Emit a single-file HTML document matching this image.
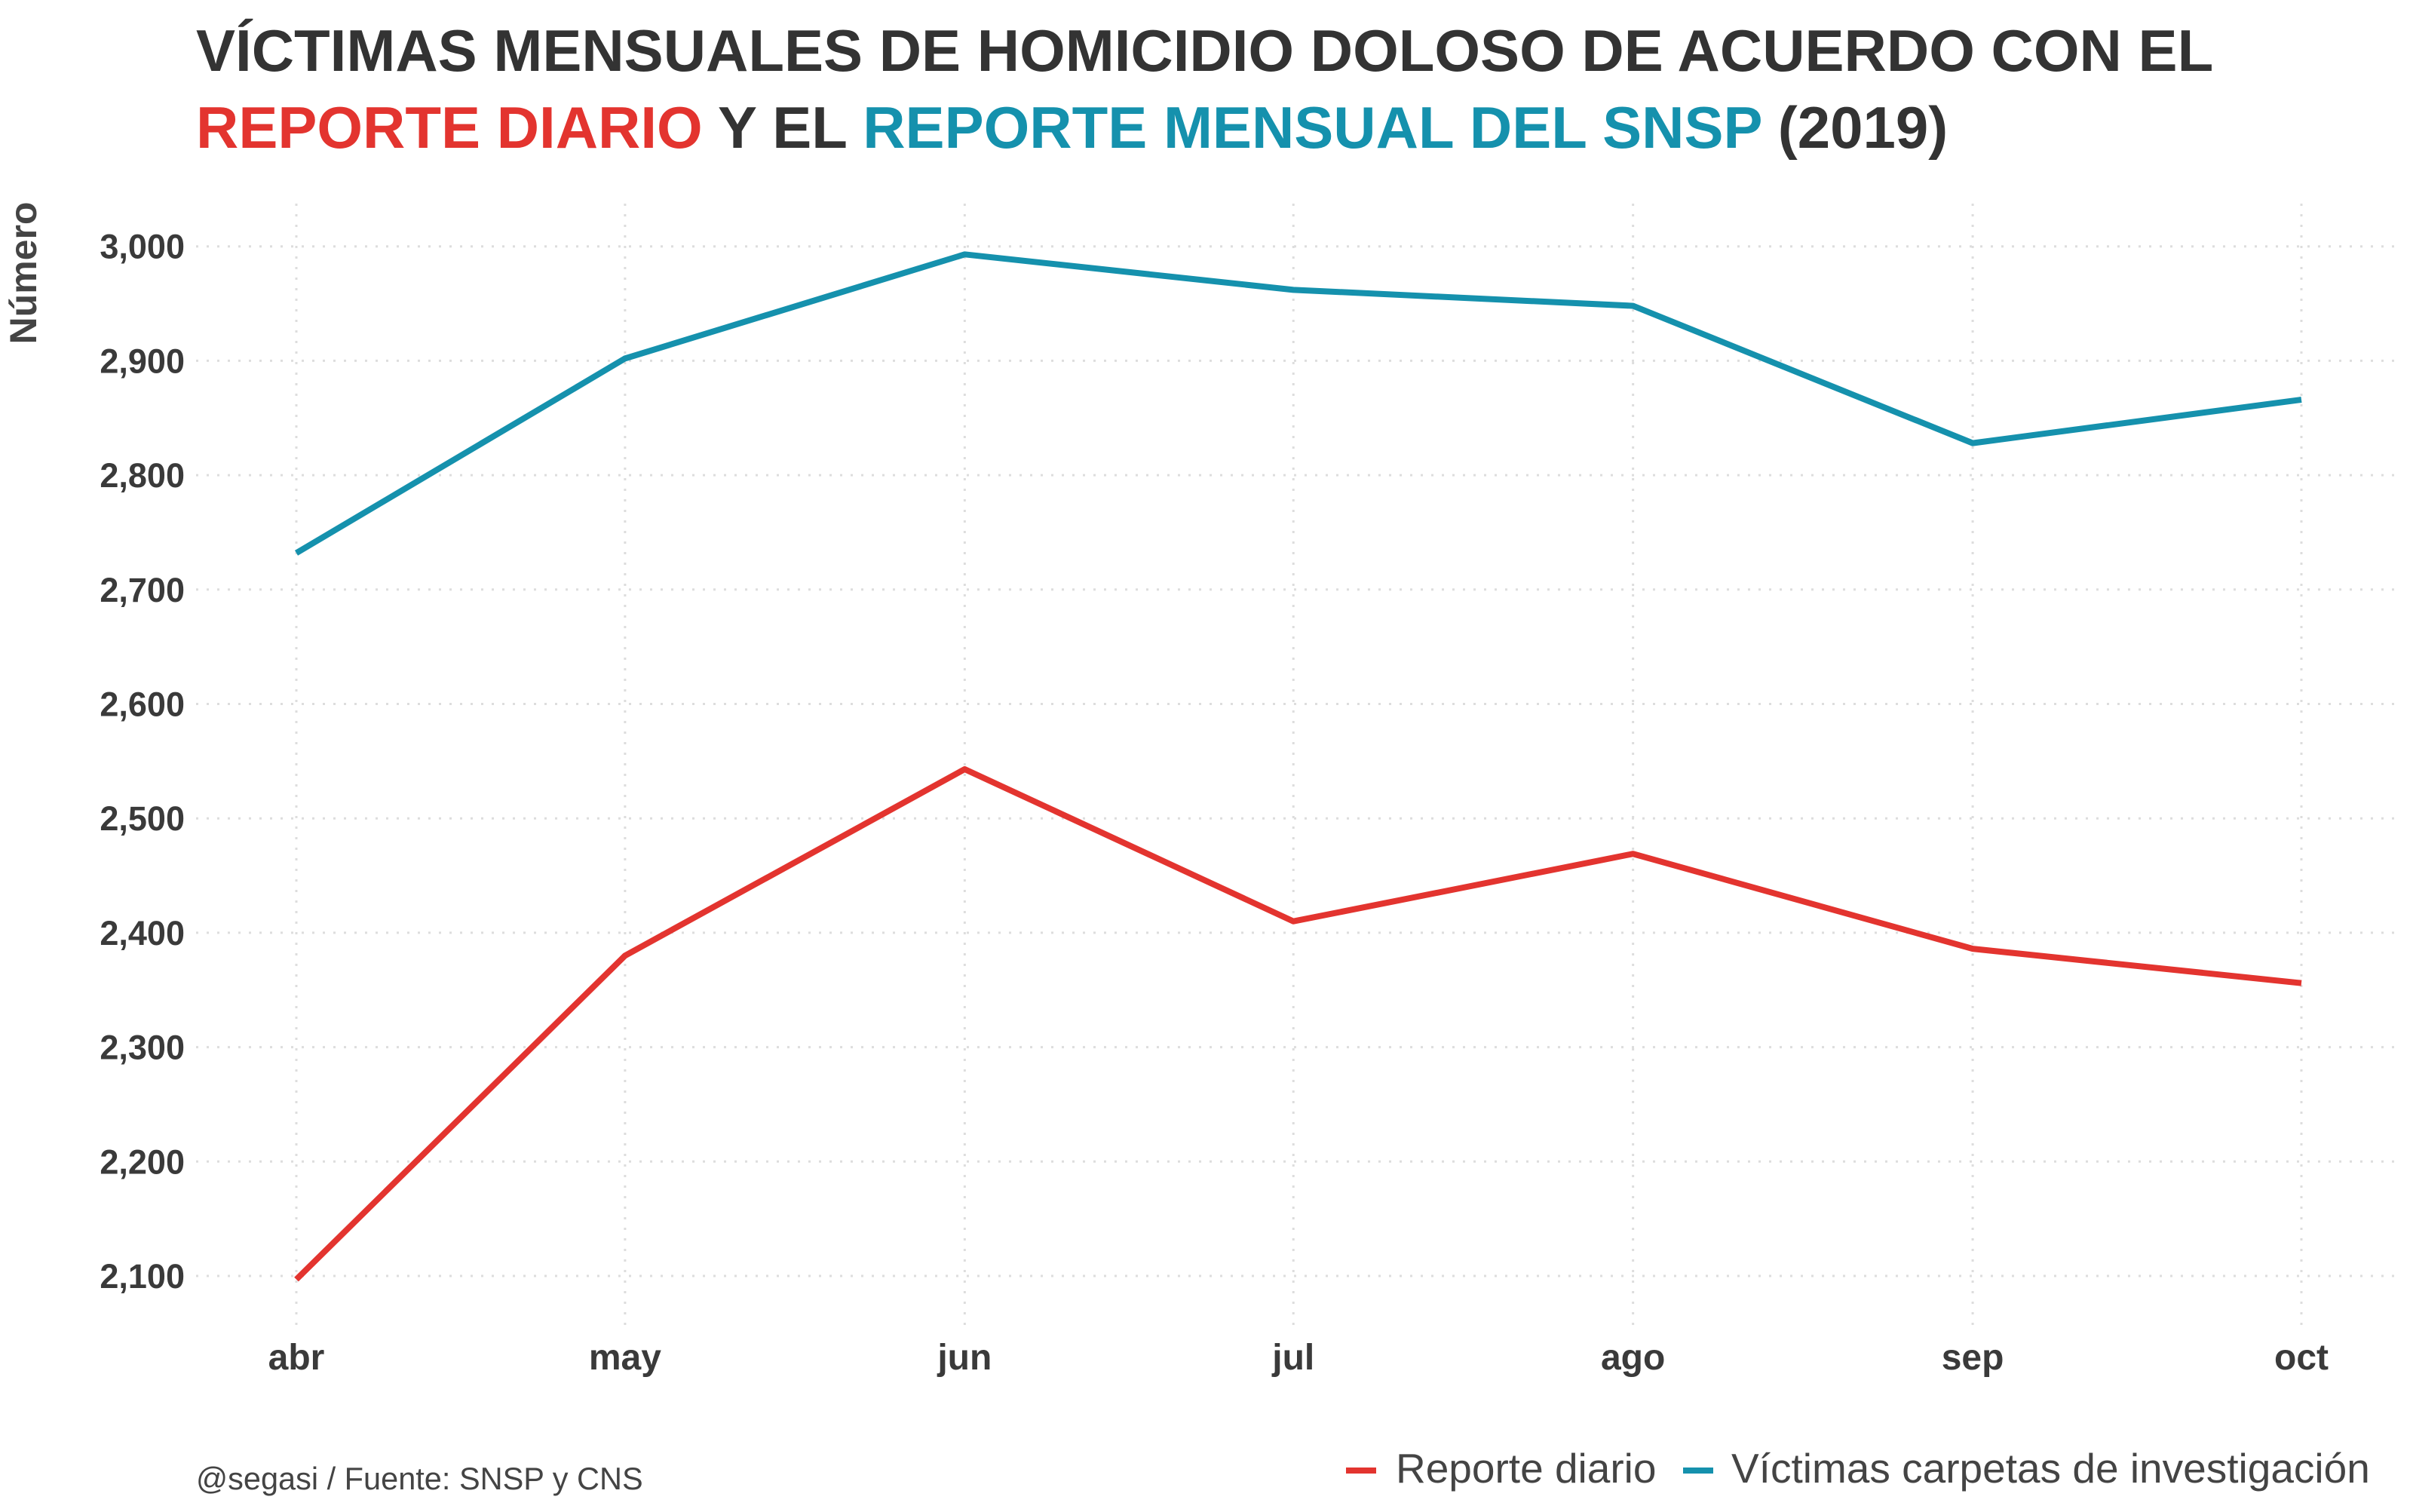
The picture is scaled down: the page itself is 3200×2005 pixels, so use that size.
<!DOCTYPE html>
<html><head><meta charset="utf-8"><style>
body{margin:0;background:#fff;}
svg text{font-family:"Liberation Sans",sans-serif;}
</style></head><body>
<svg id="chart" width="3200" height="2000" xmlns="http://www.w3.org/2000/svg">
<text x="260" y="94" font-size="78" font-weight="bold" fill="#333">VÍCTIMAS MENSUALES DE HOMICIDIO DOLOSO DE ACUERDO CON EL</text>
<text x="260" y="196" font-size="78" font-weight="bold" fill="#333"><tspan fill="#e3342f">REPORTE DIARIO</tspan> Y EL <tspan fill="#1591ad">REPORTE MENSUAL DEL SNSP</tspan> (2019)</text>
<text transform="translate(48,362) rotate(-90)" text-anchor="middle" font-size="50" font-weight="bold" fill="#444">Número</text>
<g id="grid"></g><g id="axes"></g><g id="lines"></g>
<text x="260" y="1975" font-size="41.5" fill="#444">@segasi / Fuente: SNSP y CNS</text>
<g>
<line x1="1785" y1="1950" x2="1825" y2="1950" stroke="#e3342f" stroke-width="8"/>
<text x="1851" y="1966" font-size="55" fill="#444">Reporte diario</text>
<line x1="2232" y1="1950" x2="2272" y2="1950" stroke="#1591ad" stroke-width="8"/>
<text x="2296" y="1966" font-size="55" fill="#444">Víctimas carpetas de investigación</text>
</g>
</svg>
<script>
const months=["abr","may","jun","jul","ago","sep","oct"];
const dates=["2019-04-01","2019-05-01","2019-06-01","2019-07-01","2019-08-01","2019-09-01","2019-10-01"];
const reporteDiario=[2097,2380,2543,2410,2469,2386,2356];
const victimasCarpetas=[2732,2902,2993,2962,2948,2828,2866];
const yTicks=[2100,2200,2300,2400,2500,2600,2700,2800,2900,3000];
const NS="http://www.w3.org/2000/svg";
const t0=Date.parse(dates[0]),t1=Date.parse(dates[dates.length-1]);
function x(i){return 393+(Date.parse(dates[i])-t0)/(t1-t0)*(3052-393);}
function y(v){return 326.7+(3000-v)*1.517;}
const grid=document.getElementById('grid'),axes=document.getElementById('axes'),lines=document.getElementById('lines');
function mk(tag,attrs,parent){const e=document.createElementNS(NS,tag);for(const k in attrs)e.setAttribute(k,attrs[k]);parent.appendChild(e);return e;}
yTicks.forEach(t=>{
 const l=mk('line',{x1:260,x2:3185,y1:y(t),y2:y(t),stroke:'#ddd','stroke-width':3,'stroke-dasharray':'3 11'},grid);
 
 
 const tx=mk('text',{x:245,y:y(t)+16,'text-anchor':'end','font-size':45,'font-weight':'bold',fill:'#3a3a3a'},axes);
 tx.textContent=t.toLocaleString('en-US');
 
 
});
months.forEach((m,i)=>{
 const l=mk('line',{x1:x(i),x2:x(i),y1:270,y2:1768,stroke:'#ddd','stroke-width':3,'stroke-dasharray':'3 11'},grid);
 
 
 const tx=mk('text',{x:x(i),y:1816,'text-anchor':'middle','font-size':48,'font-weight':'bold',fill:'#3a3a3a'},axes);
 tx.textContent=m;
 
 
});
function series(vals,color,name){
 const p=mk('polyline',{points:vals.map((v,i)=>x(i)+','+y(v)).join(' '),fill:'none',stroke:color,'stroke-width':8,'stroke-linejoin':'round'},lines);
 
 
}
series(victimasCarpetas,'#1591ad','line-victimas-carpetas');
series(reporteDiario,'#e3342f','line-reporte-diario');
</script>
</body></html>
